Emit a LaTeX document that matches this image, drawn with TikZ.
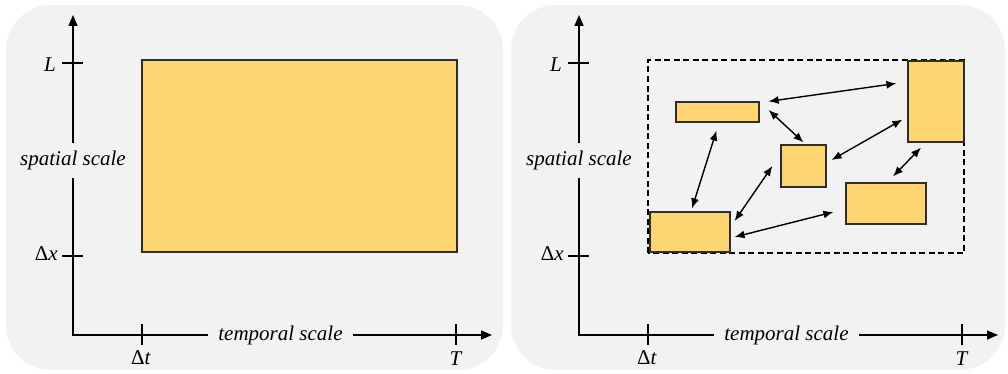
\documentclass[tikz,border=0pt]{standalone}
\usepackage{fontspec}
\setmainfont{Liberation Serif}
\usepackage{tikz}
\usetikzlibrary{arrows.meta, positioning}
\definecolor{panelgray}{HTML}{F2F2F2}
\definecolor{spanyellow}{HTML}{FDD672}
\definecolor{edgegray}{HTML}{2E2E2E}
\tikzstyle{panel} = [fill=panelgray, rounded corners=45pt]
\tikzstyle{axisline} = [line width=1.5pt, line join=miter]
\tikzstyle{axisarrow} = [line width=1.5pt, -{Triangle[length=11pt,width=9pt]}]
\tikzstyle{tickmark} = [line width=1.5pt]
\tikzstyle{axislabel} = [font=\fontsize{21}{24}\selectfont\itshape, inner sep=0pt]
\tikzstyle{ticklabel} = [font=\fontsize{21}{24}\selectfont, inner sep=1pt]
\tikzstyle{block} = [rectangle, draw=edgegray, fill=spanyellow, line width=1.2pt, inner sep=0pt]
\tikzstyle{link} = [line width=1.4pt, {Latex[length=10pt,width=8pt]}-{Latex[length=10pt,width=8pt]}]
\tikzstyle{bounds} = [draw=black, line width=1.2pt, dash pattern=on 6pt off 3.5pt]

\begin{document}
\begin{tikzpicture}[x=1pt, y=1pt]
  \useasboundingbox (0,0) rectangle (1008,373);

  % left panel: one scale range
  \fill[panel] (6,3) rectangle (503,368);
  \coordinate (o1) at (73,38);
  \coordinate (ytop1) at (73,358);
  \coordinate (xend1) at (492,38);
  \node (ylab1) [axislabel, minimum height=35pt] at (73,212.5) {spatial scale};
  \node (xlab1) [axislabel, minimum width=145pt] at (280.5,38) {temporal scale};
  \draw[axisline] (ylab1) -- (o1) -- (xlab1);
  \draw[axisarrow] (ylab1) -- (ytop1);
  \draw[axisarrow] (xlab1) -- (xend1);

  \coordinate (L1) at (73,310);
  \coordinate (dx1) at (73,117);
  \coordinate (dt1) at (142,38);
  \coordinate (T1) at (456,38);
  \draw[tickmark] ([xshift=-11pt]L1) -- ([xshift=10pt]L1);
  \draw[tickmark] ([xshift=-11pt]dx1) -- ([xshift=10pt]dx1);
  \draw[tickmark] ([yshift=-10pt]dt1) -- ([yshift=11pt]dt1);
  \draw[tickmark] ([yshift=-10pt]T1) -- ([yshift=11pt]T1);
  \node (Llab1) [ticklabel, anchor=east] at (57,308.5) {\textit{L}};
  \node (dxlab1)[ticklabel, anchor=east] at (59,119) {Δ\textit{x}};
  \node (dtlab1)[ticklabel, anchor=north] at (141,24) {Δ\textit{t}};
  \node (Tlab1) [ticklabel, anchor=north] at (456,22) {\textit{T}};

  \node (span) [block, minimum width=315pt, minimum height=192pt] at (299.5,217) {};

  % right panel: coupled sub-models
  \fill[panel] (511,3) rectangle (1005,368);
  \coordinate (o2) at (579,38);
  \coordinate (ytop2) at (579,358);
  \coordinate (xend2) at (998,38);
  \node (ylab2) [axislabel, minimum height=35pt] at (579,212.5) {spatial scale};
  \node (xlab2) [axislabel, minimum width=145pt] at (786.5,38) {temporal scale};
  \draw[axisline] (ylab2) -- (o2) -- (xlab2);
  \draw[axisarrow] (ylab2) -- (ytop2);
  \draw[axisarrow] (xlab2) -- (xend2);

  \coordinate (L2) at (579,310);
  \coordinate (dx2) at (579,117);
  \coordinate (dt2) at (648,38);
  \coordinate (T2) at (962,38);
  \draw[tickmark] ([xshift=-11pt]L2) -- ([xshift=10pt]L2);
  \draw[tickmark] ([xshift=-11pt]dx2) -- ([xshift=10pt]dx2);
  \draw[tickmark] ([yshift=-10pt]dt2) -- ([yshift=11pt]dt2);
  \draw[tickmark] ([yshift=-10pt]T2) -- ([yshift=11pt]T2);
  \node (Llab2) [ticklabel, anchor=east] at (563,308.5) {\textit{L}};
  \node (dxlab2)[ticklabel, anchor=east] at (565,119) {Δ\textit{x}};
  \node (dtlab2)[ticklabel, anchor=north] at (647,24) {Δ\textit{t}};
  \node (Tlab2) [ticklabel, anchor=north] at (962,22) {\textit{T}};

  \draw[bounds] (648,120) rectangle (964,313);

  \node (sub1) [block, minimum width=83pt, minimum height=20pt] at (717.5,261) {};
  \node (sub2) [block, minimum width=56pt, minimum height=81pt] at (936,271.5) {};
  \node (sub3) [block, minimum width=45pt, minimum height=42pt] at (803.5,207) {};
  \node (sub4) [block, minimum width=80pt, minimum height=41pt] at (886,169.5) {};
  \node (sub5) [block, minimum width=80pt, minimum height=40pt] at (690,141) {};

  \draw[link] ([xshift=9pt]sub1.north east) -- ([shift={(-11pt,-23pt)}]sub2.north west);
  \draw[link] ([shift={(9pt,2pt)}]sub1.east) -- ([yshift=2pt]sub3.north);
  \draw[link] ([shift={(-1pt,-8pt)}]sub1.south) -- ([shift={(2pt,3pt)}]sub5.north);
  \draw[link] ([shift={(5pt,6pt)}]sub3.east) -- ([shift={(-5pt,23pt)}]sub2.south west);
  \draw[link] ([shift={(4pt,11pt)}]sub5.east) -- ([xshift=-8pt]sub3.west);
  \draw[link] ([shift={(4pt,-5pt)}]sub5.east) -- ([shift={(-12pt,-8.5pt)}]sub4.west);
  \draw[link] ([shift={(7pt,6pt)}]sub4.north) -- ([shift={(-15pt,-5pt)}]sub2.south);
\end{tikzpicture}
\end{document}
